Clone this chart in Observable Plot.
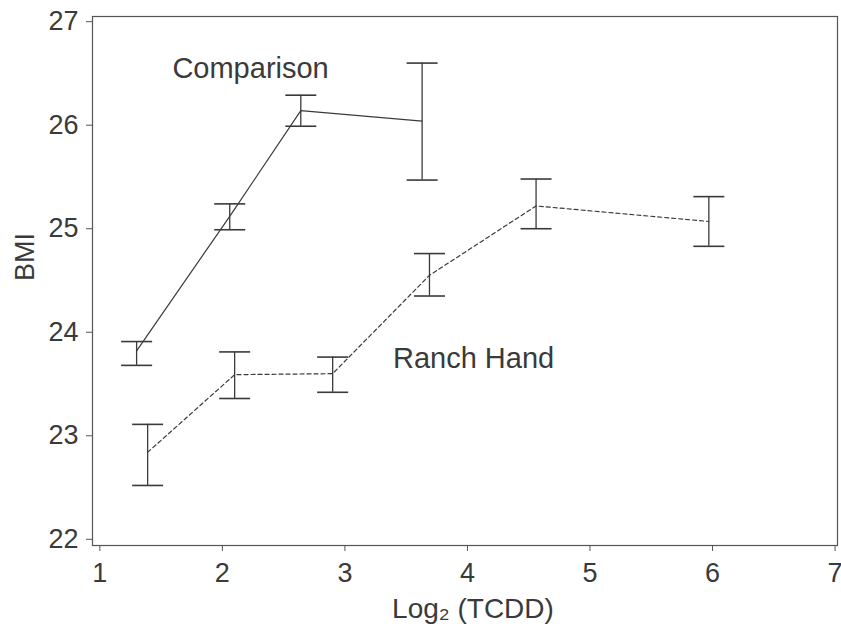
<!DOCTYPE html>
<html>
<head>
<meta charset="utf-8">
<script src="https://cdn.jsdelivr.net/npm/d3@7"></script>
<script src="https://cdn.jsdelivr.net/npm/@observablehq/plot@0.6"></script>
<style>
  html, body { margin: 0; padding: 0; background: #fff; }
  #chart svg { display: block; }
</style>
</head>
<body>
<div id="chart"></div>
<script>
// ---- data ----
const xTicks = [1, 2, 3, 4, 5, 6, 7];
const yTicks = [22, 23, 24, 25, 26, 27];

const compX    = [1.30, 2.06, 2.64, 3.63];
const compMean = [23.82, 25.12, 26.14, 26.04];
const compLo   = [23.68, 24.99, 25.99, 25.47];
const compHi   = [23.91, 25.24, 26.29, 26.60];

const ranchX    = [1.39, 2.10, 2.90, 3.69, 4.56, 5.97];
const ranchMean = [22.84, 23.59, 23.60, 24.55, 25.22, 25.07];
const ranchLo   = [22.52, 23.36, 23.42, 24.35, 25.00, 24.83];
const ranchHi   = [23.11, 23.81, 23.76, 24.76, 25.48, 25.31];

const seriesNames = ["Comparison", "Ranch Hand"];
const labelX = [2.23, 4.05];
const labelY = [26.55, 23.74];

const xLabel = "Log\u2082 (TCDD)";
const yLabel = "BMI";

// ---- build tables ----
const comp = compX.map((x, i) => ({x, mean: compMean[i], lo: compLo[i], hi: compHi[i]}));
const ranch = ranchX.map((x, i) => ({x, mean: ranchMean[i], lo: ranchLo[i], hi: ranchHi[i]}));
const labels = seriesNames.map((t, i) => ({t, x: labelX[i], y: labelY[i]}));

const capSymbol = {
  draw(ctx, size) {
    const r = Math.sqrt(size / Math.PI);
    ctx.moveTo(-r, 0);
    ctx.lineTo(r, 0);
  }
};

const ink = "#3a3a3a";

function errorMarks(data, dash) {
  return [
    Plot.ruleX(data, {x: "x", y1: "lo", y2: "hi", stroke: ink, strokeWidth: 1.3}),
    Plot.dot(data, {x: "x", y: "lo", symbol: capSymbol, r: 15.5, stroke: ink, strokeWidth: 1.6, fill: "none"}),
    Plot.dot(data, {x: "x", y: "hi", symbol: capSymbol, r: 15.5, stroke: ink, strokeWidth: 1.6, fill: "none"}),
    Plot.line(data, {x: "x", y: "mean", stroke: ink, strokeWidth: 1.2, strokeDasharray: dash})
  ];
}

const chart = Plot.plot({
  width: 841,
  height: 635,
  marginLeft: 92,
  marginRight: 4,
  marginTop: 16,
  marginBottom: 90,
  style: {fontFamily: "'Liberation Sans', Arial, sans-serif", fontSize: "27px", color: ink, background: "#fff", overflow: "visible"},
  x: {domain: [0.94, 7.02]},
  y: {domain: [21.94, 27.05]},
  marks: [
    Plot.frame({stroke: "#555", strokeWidth: 1.2}),
    Plot.axisX({ticks: xTicks, tickFormat: "d", tickSize: 6, tickPadding: 11, label: null, stroke: "#555", fill: ink}),
    Plot.axisY({ticks: yTicks, tickFormat: "d", tickSize: 6, tickPadding: 8, label: null, stroke: "#555", fill: ink}),
    ...errorMarks(comp, null),
    ...errorMarks(ranch, "4,3"),
    Plot.text(labels, {x: "x", y: "y", text: "t", fontSize: 29, fill: ink, textAnchor: "middle"}),
    Plot.text([xLabel], {frameAnchor: "bottom", dy: 72, dx: 8, fontSize: 28, fill: ink}),
    Plot.text([yLabel], {frameAnchor: "left", dx: -67, rotate: -90, fontSize: 27, fill: ink})
  ]
});

document.getElementById("chart").appendChild(chart);
</script>
</body>
</html>
